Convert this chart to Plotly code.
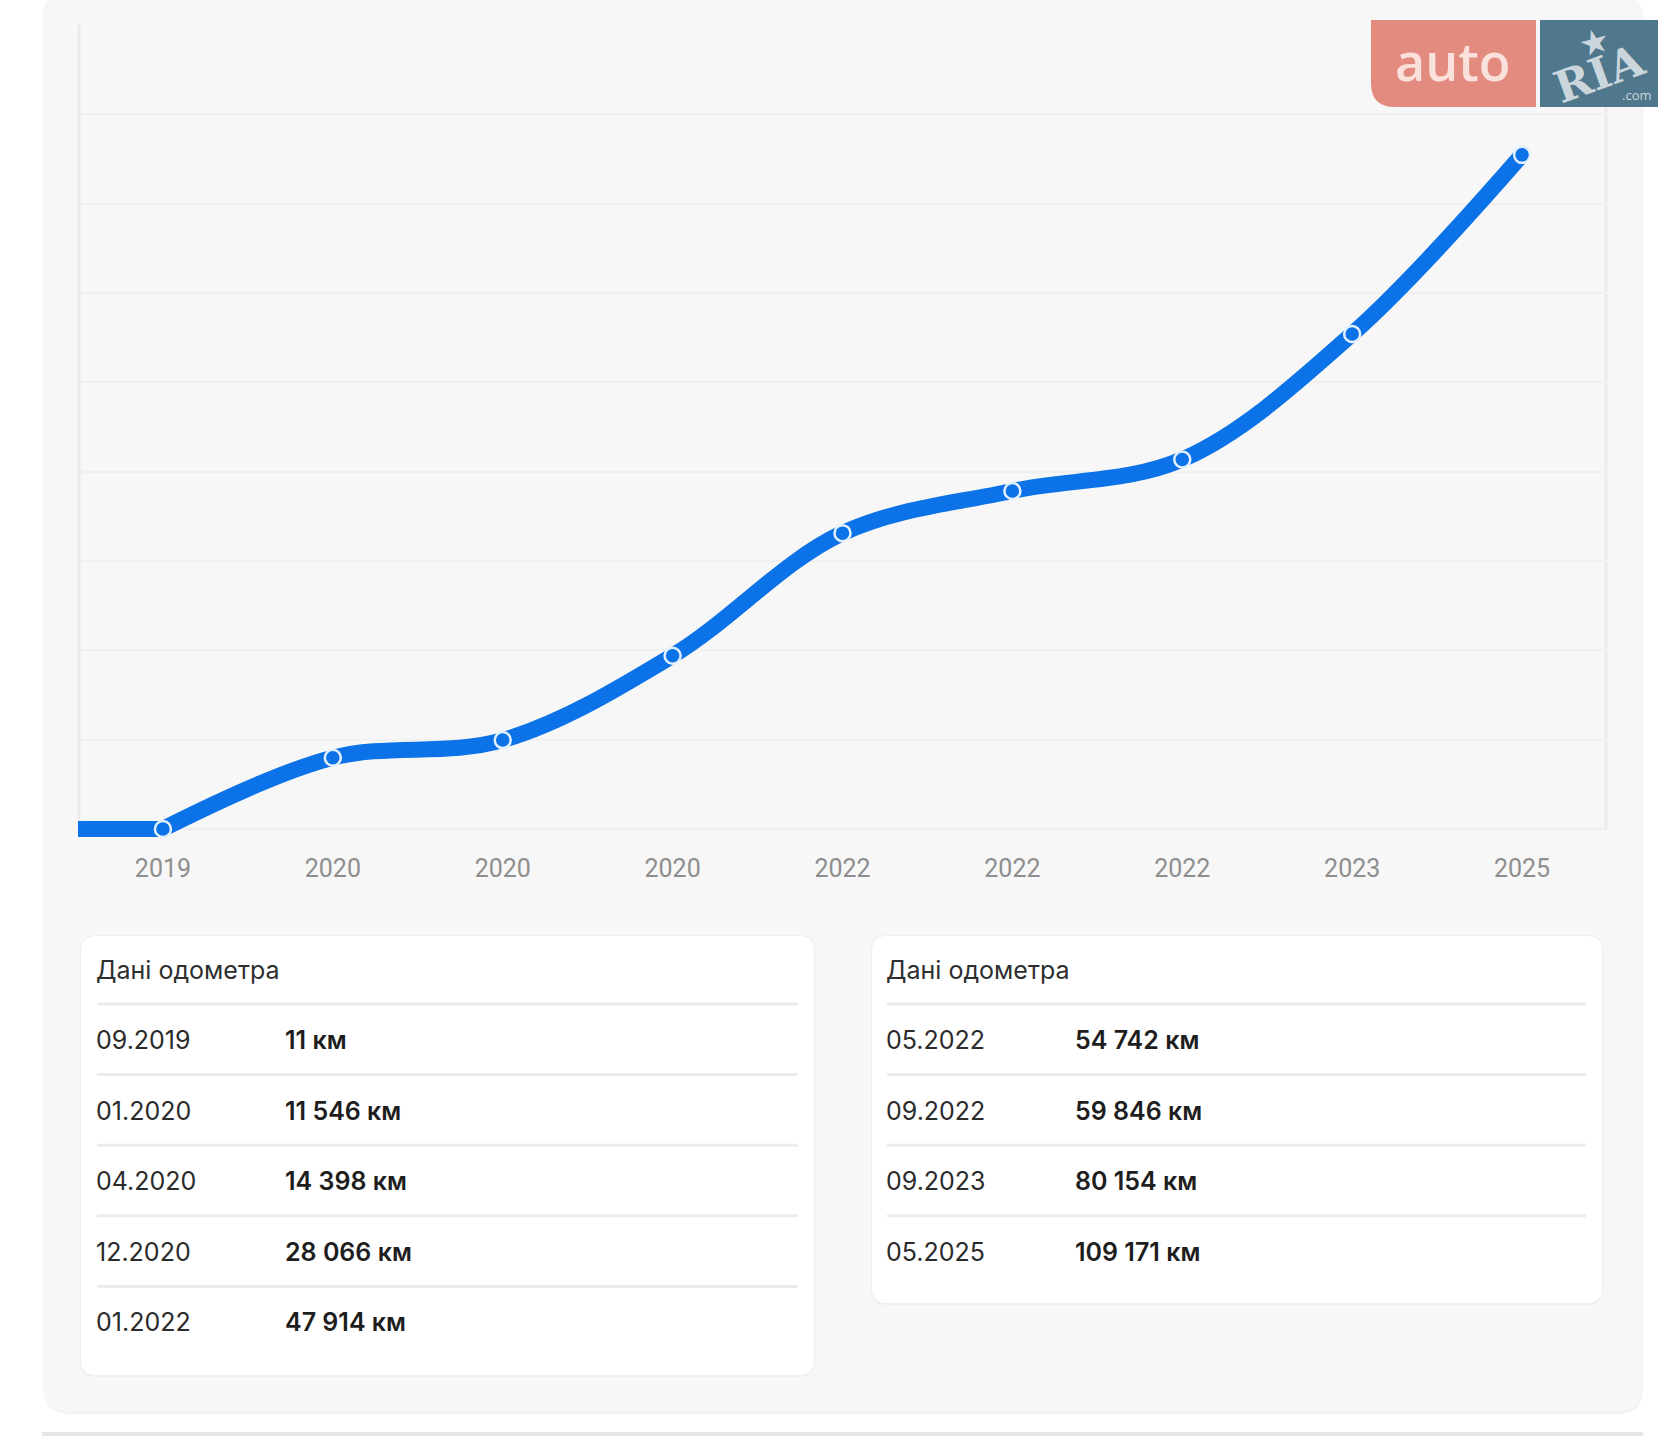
import plotly.graph_objects as go

# ---------------- data ----------------
dates = ["09.2019", "01.2020", "04.2020", "12.2020", "01.2022",
         "05.2022", "09.2022", "09.2023", "05.2025"]
year_labels = ["2019", "2020", "2020", "2020", "2022", "2022", "2022", "2023", "2025"]
km = [11, 11546, 14398, 28066, 47914, 54742, 59846, 80154, 109171]
table_title = "Дані одометра"
unit = "км"
left_rows = [0, 1, 2, 3, 4]
right_rows = [5, 6, 7, 8]

# ---------------- geometry (pixels) ----------------
W, H = 1675, 1440
L, R, T = 78, 1607, 25
ZERO_Y = 829          # pixel row of value 0
B = 846               # plot-area bottom (a little below zero so the thick line is not clipped)
Y_MAX = 130200
N_GRID = 9
Y_MIN = -(B - ZERO_Y) * Y_MAX / (ZERO_Y - T)


def px(x):
    return (x - L) / (R - L)


def py(y):
    return (B - y) / (B - T)


def rrect(x0, y0, x1, y1, r=(0, 0, 0, 0)):
    tl, tr, br, bl = r
    pts = [f"M{px(x0 + tl)},{py(y0)}", f"L{px(x1 - tr)},{py(y0)}"]
    if tr:
        pts.append(f"Q{px(x1)},{py(y0)} {px(x1)},{py(y0 + tr)}")
    pts.append(f"L{px(x1)},{py(y1 - br)}")
    if br:
        pts.append(f"Q{px(x1)},{py(y1)} {px(x1 - br)},{py(y1)}")
    pts.append(f"L{px(x0 + bl)},{py(y1)}")
    if bl:
        pts.append(f"Q{px(x0)},{py(y1)} {px(x0)},{py(y1 - bl)}")
    pts.append(f"L{px(x0)},{py(y0 + tl)}")
    if tl:
        pts.append(f"Q{px(x0)},{py(y0)} {px(x0 + tl)},{py(y0)}")
    pts.append("Z")
    return " ".join(pts)


def fmt_km(v):
    return f"{v:,}".replace(",", " ") + " " + unit


BLUE = "#0b72e7"
TFONT = "Inter, Roboto, sans-serif"
TSIZE = 25
shapes = []
ann = []

# container background
shapes.append(dict(type="path", xref="paper", yref="paper", layer="below",
                   path=rrect(44, -4, 1643, 1414, (22, 22, 26, 26)),
                   fillcolor="#f2f2f2", line=dict(width=0)))
shapes.append(dict(type="path", xref="paper", yref="paper", layer="below",
                   path=rrect(43, -6, 1642, 1412, (22, 22, 26, 26)),
                   fillcolor="#f7f7f7", line=dict(width=0)))
# bottom divider line
shapes.append(dict(type="rect", xref="paper", yref="paper", layer="below",
                   x0=px(42), x1=px(1643), y0=py(1432), y1=py(1436),
                   fillcolor="#e6e6e6", line=dict(width=0)))
# plot-area side borders
for xb in (L + 1, R - 1):
    shapes.append(dict(type="line", xref="paper", yref="paper", layer="below",
                       x0=px(xb), x1=px(xb), y0=py(T), y1=py(ZERO_Y),
                       line=dict(color="#ebebeb", width=3)))

# cards
cards = [
    (81, 936, 814, 1375, 97, 286, left_rows),
    (872, 936, 1602, 1303, 887, 1076, right_rows),
]
ROW0 = 1040
ROW_STEP = 70.6
for (x0, y0, x1, y1, xd, xv, rows) in cards:
    shapes.append(dict(type="path", xref="paper", yref="paper", layer="below",
                       path=rrect(x0 - 1, y0 - 1, x1 + 1, y1 + 2, (16, 16, 16, 16)),
                       fillcolor="#efefef", line=dict(width=0)))
    shapes.append(dict(type="path", xref="paper", yref="paper", layer="below",
                       path=rrect(x0, y0, x1, y1, (15, 15, 15, 15)),
                       fillcolor="#ffffff", line=dict(width=0)))
    ann.append(dict(x=px(xd - 3), y=py(970), xref="paper", yref="paper",
                    text=table_title, showarrow=False, xanchor="left", yanchor="middle",
                    font=dict(family=TFONT, size=TSIZE, color="#2e2e2e")))
    for j, i in enumerate(rows):
        ysep = ROW0 - 36 + j * ROW_STEP
        shapes.append(dict(type="line", xref="paper", yref="paper", layer="below",
                           x0=px(xd), x1=px(x1 - 16), y0=py(ysep), y1=py(ysep),
                           line=dict(color="#ececec", width=3)))
        yc = ROW0 + j * ROW_STEP
        ann.append(dict(x=px(xd - 3), y=py(yc), xref="paper", yref="paper",
                        text=dates[i], showarrow=False, xanchor="left", yanchor="middle",
                        font=dict(family=TFONT, size=TSIZE, color="#2b2b2b")))
        ann.append(dict(x=px(xv - 3), y=py(yc), xref="paper", yref="paper",
                        text=fmt_km(km[i]), showarrow=False,
                        xanchor="left", yanchor="middle",
                        font=dict(family=TFONT, size=TSIZE, color="#1e1e1e", weight=600)))

# logo
shapes.append(dict(type="path", xref="paper", yref="paper", layer="above",
                   path=rrect(1371, 20, 1536, 107, (0, 0, 0, 24)),
                   fillcolor="#e48b80", line=dict(width=0)))
shapes.append(dict(type="rect", xref="paper", yref="paper", layer="above",
                   x0=px(1540), x1=px(1658), y0=py(20), y1=py(107),
                   fillcolor="#4f788c", line=dict(width=0)))
ann.append(dict(x=px(1453), y=py(61), xref="paper", yref="paper", text="auto",
                showarrow=False, xanchor="center", yanchor="middle",
                font=dict(family="Open Sans", size=52, color="#fbe1dc", weight=600)))
ann.append(dict(x=px(1599), y=py(73), xref="paper", yref="paper", text="<b>RIA</b>",
                showarrow=False, xanchor="center", yanchor="middle", textangle=-20,
                font=dict(family="DejaVu Serif", size=44, color="#cbd5dc")))
ann.append(dict(x=px(1594), y=py(42), xref="paper", yref="paper", text="★",
                showarrow=False, xanchor="center", yanchor="middle", textangle=-15,
                font=dict(family="DejaVu Sans", size=34, color="#cbd5dc")))
ann.append(dict(x=px(1637), y=py(95), xref="paper", yref="paper", text=".com",
                showarrow=False, xanchor="center", yanchor="middle",
                font=dict(family="Open Sans", size=13, color="#cbd5dc")))

# ---------------- traces ----------------
xs = list(range(len(km)))
x_left = -0.5
fig = go.Figure()
# flat lead-in from the plot edge to the first reading
fig.add_trace(go.Scatter(x=[x_left, xs[0]], y=[km[0], km[0]], mode="lines",
                         line=dict(color=BLUE, width=16),
                         hoverinfo="skip", showlegend=False))
fig.add_trace(go.Scatter(x=xs, y=km, mode="lines",
                         line=dict(color=BLUE, width=16, shape="spline", smoothing=1),
                         hoverinfo="skip", showlegend=False))
fig.add_trace(go.Scatter(
    x=xs, y=km, mode="markers",
    marker=dict(size=16, color=BLUE, line=dict(color="#e2f0fd", width=2.5)),
    text=dates, showlegend=False, cliponaxis=False,
    hovertemplate="%{text}: %{y} км<extra></extra>",
))

fig.update_layout(
    width=W, height=H, autosize=False,
    margin=dict(l=L, r=W - R, t=T, b=H - B, pad=0),
    paper_bgcolor="#ffffff",
    plot_bgcolor="rgba(0,0,0,0)",
    shapes=shapes, annotations=ann,
    xaxis=dict(range=[x_left, len(km) - 0.5], tickmode="array", tickvals=xs,
               ticktext=year_labels, showgrid=False, zeroline=False,
               showline=False, ticks="", ticklabelstandoff=5,
               tickfont=dict(family="Roboto", size=25, color="#8e8e8e")),
    yaxis=dict(range=[Y_MIN, Y_MAX], dtick=Y_MAX / N_GRID, tick0=0,
               showticklabels=False, showgrid=True, gridcolor="#f0f0f0",
               gridwidth=2, zeroline=True, zerolinecolor="#efefef", zerolinewidth=2,
               showline=False),
    font=dict(family="Roboto"),
)

fig.write_html("out.html")
